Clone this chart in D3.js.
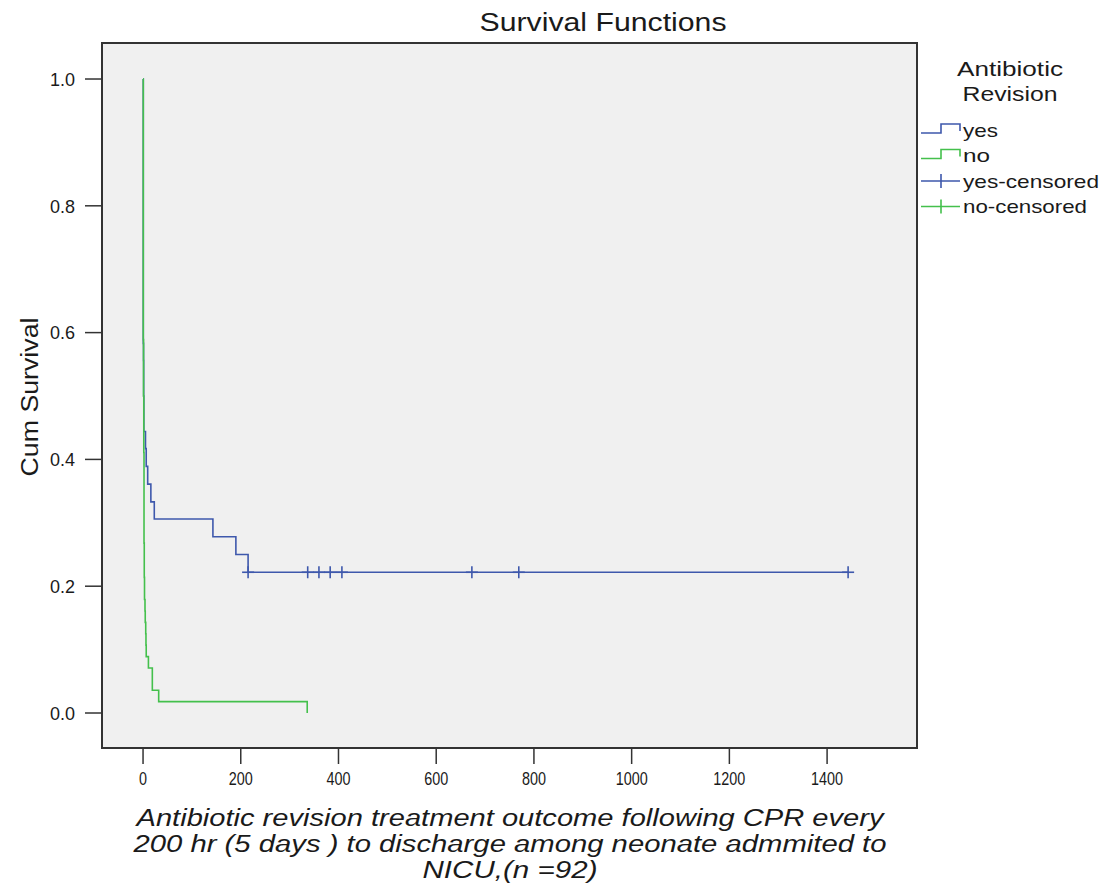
<!DOCTYPE html>
<html>
<head>
<meta charset="utf-8">
<script src="https://cdn.jsdelivr.net/npm/d3@7"></script>
<style>
  body { margin: 0; background: #fff; }
  svg text { font-family: Arial, "Liberation Sans", sans-serif; fill: #1a1a1a; }
</style>
</head>
<body>
<svg id="chart" width="1105" height="894"></svg>
<script>
// Kaplan-Meier step points: [time (hr), cumulative survival]
const yesSteps = [
  [0, 1.0], [0.5, 0.583], [1, 0.556], [1.3, 0.5], [1.6, 0.444],
  [5, 0.417], [6.5, 0.389], [9.5, 0.361], [16, 0.333], [23, 0.306],
  [143, 0.278], [190, 0.25], [215, 0.222], [1443, 0.222]
];
const noSteps = [
  [0, 1.0], [0.5, 0.589], [1, 0.5], [1.5, 0.411], [2, 0.268],
  [2.5, 0.214], [3, 0.179], [4, 0.161], [4.5, 0.143], [5.5, 0.125],
  [6, 0.107], [6.5, 0.089], [11, 0.071], [19, 0.036], [32, 0.018],
  [336, 0.0]
];
// censored times for the "yes" group (all at survival 0.222)
const yesCensored = [215, 337, 360, 383, 407, 673, 769, 1443];
const yesCensoredSurv = 0.222;

const xTicks = [0, 200, 400, 600, 800, 1000, 1200, 1400];
const yTicks = [0.0, 0.2, 0.4, 0.6, 0.8, 1.0];

const colors = { yes: "#3e58ac", no: "#44c04c" };
const legendLabels = ["yes", "no", "yes-censored", "no-censored"];

const titleText = "Survival Functions";
const yTitle = "Cum Survival";
const xTitleLines = [
  "Antibiotic revision treatment outcome following CPR every",
  "200 hr (5 days ) to discharge among neonate admmited to",
  "NICU,(n =92)"
];

const svg = d3.select("#chart");

// plot frame
const frame = { left: 102, right: 917, top: 43, bottom: 748 };

const x = d3.scaleLinear().domain([-84, 1584]).range([frame.left, frame.right]);
const y = d3.scaleLinear().domain([-0.0552, 1.0568]).range([frame.bottom, frame.top]);

svg.append("rect")
  .attr("x", frame.left)
  .attr("y", frame.top)
  .attr("width", frame.right - frame.left)
  .attr("height", frame.bottom - frame.top)
  .attr("fill", "#f0f0f0")
  .attr("stroke", "#333")
  .attr("stroke-width", 2);

// y axis ticks
const yAxis = svg.append("g").attr("class", "y-axis");
yAxis.selectAll("line")
  .data(yTicks)
  .join("line")
  .attr("x1", frame.left - 17)
  .attr("x2", frame.left)
  .attr("y1", (d) => y(d))
  .attr("y2", (d) => y(d))
  .attr("stroke", "#333")
  .attr("stroke-width", 1.5);
yAxis.selectAll("text")
  .data(yTicks)
  .join("text")
  .attr("x", frame.left - 27)
  .attr("y", (d) => y(d))
  .attr("dy", "0.36em")
  .attr("text-anchor", "end")
  .attr("textLength", 25)
  .attr("lengthAdjust", "spacingAndGlyphs")
  .style("font-size", "19px")
  .text((d) => d3.format(".1f")(d));

// x axis ticks
const xAxis = svg.append("g").attr("class", "x-axis");
xAxis.selectAll("line")
  .data(xTicks)
  .join("line")
  .attr("x1", (d) => x(d))
  .attr("x2", (d) => x(d))
  .attr("y1", frame.bottom)
  .attr("y2", frame.bottom + 16)
  .attr("stroke", "#333")
  .attr("stroke-width", 1.5);
xAxis.selectAll("text")
  .data(xTicks)
  .join("text")
  .attr("x", (d) => x(d))
  .attr("y", frame.bottom + 37)
  .attr("text-anchor", "middle")
  .attr("textLength", (d) => String(d).length * 8)
  .attr("lengthAdjust", "spacingAndGlyphs")
  .style("font-size", "19px")
  .text((d) => d);

// survival curves
const line = d3.line()
  .x((d) => x(d[0]))
  .y((d) => y(d[1]))
  .curve(d3.curveStepAfter);

svg.append("path")
  .datum(yesSteps)
  .attr("d", line)
  .attr("fill", "none")
  .attr("stroke", colors.yes)
  .attr("stroke-width", 1.6);

// censor marks
const marks = svg.append("g")
  .selectAll("g")
  .data(yesCensored)
  .join("g")
  .attr("transform", (d) => `translate(${x(d)},${y(yesCensoredSurv)})`)
  .attr("stroke", colors.yes)
  .attr("stroke-width", 1.6);
marks.append("line").attr("x1", 0).attr("x2", 0).attr("y1", -6).attr("y2", 6);
marks.append("line").attr("x1", -6).attr("x2", 6).attr("y1", 0).attr("y2", 0);

svg.append("path")
  .datum(noSteps)
  .attr("d", line)
  .attr("fill", "none")
  .attr("stroke", colors.no)
  .attr("stroke-width", 1.6);

// titles
svg.append("text")
  .attr("x", 603)
  .attr("y", 31)
  .attr("text-anchor", "middle")
  .attr("textLength", 247)
  .attr("lengthAdjust", "spacingAndGlyphs")
  .style("font-size", "25px")
  .text(titleText);

svg.append("text")
  .attr("transform", "translate(38,397) rotate(-90)")
  .attr("text-anchor", "middle")
  .attr("textLength", 159)
  .attr("lengthAdjust", "spacingAndGlyphs")
  .style("font-size", "23px")
  .text(yTitle);

const xTitleWidths = [747, 753, 175];
svg.append("g")
  .selectAll("text")
  .data(xTitleLines)
  .join("text")
  .attr("x", 510)
  .attr("y", (d, i) => 826 + i * 26)
  .attr("text-anchor", "middle")
  .attr("textLength", (d, i) => xTitleWidths[i])
  .attr("lengthAdjust", "spacingAndGlyphs")
  .style("font-size", "23px")
  .style("font-style", "italic")
  .text((d) => d);

// legend
const legend = svg.append("g").attr("class", "legend");
legend.selectAll("text.ltitle")
  .data(["Antibiotic", "Revision"])
  .join("text")
  .attr("class", "ltitle")
  .attr("x", 1010)
  .attr("y", (d, i) => 76 + i * 25)
  .attr("text-anchor", "middle")
  .attr("textLength", (d, i) => [106, 95][i])
  .attr("lengthAdjust", "spacingAndGlyphs")
  .style("font-size", "21px")
  .text((d) => d);

const labelWidths = [35, 27, 136, 124];
const rows = legend.selectAll("g.item")
  .data(legendLabels)
  .join("g")
  .attr("class", "item")
  .attr("transform", (d, i) => `translate(921,${130 + i * 25.5})`);

rows.append("path")
  .attr("d", (d, i) => i < 2
    ? "M0,3H20V-6H39V1"
    : "M0,0H39M20,-7V7")
  .attr("fill", "none")
  .attr("stroke", (d) => colors[d.split("-")[0]])
  .attr("stroke-width", 1.6);

rows.append("text")
  .attr("x", 42)
  .attr("dy", "0.35em")
  .attr("textLength", (d, i) => labelWidths[i])
  .attr("lengthAdjust", "spacingAndGlyphs")
  .style("font-size", "19px")
  .text((d) => d);
</script>
</body>
</html>
